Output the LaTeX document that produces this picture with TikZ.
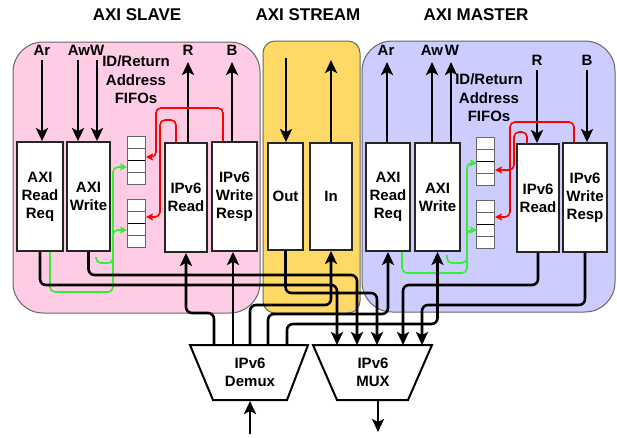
\documentclass[tikz,border=0pt]{standalone}
\usepackage{fontspec}
\setmainfont{Liberation Sans}
\usetikzlibrary{arrows.meta}
\definecolor{pinkbg}{HTML}{FFCCE6}
\definecolor{yellowbg}{HTML}{FFD966}
\definecolor{bluebg}{HTML}{CCCCFF}
\definecolor{panelborder}{HTML}{666666}
\definecolor{fifogray}{HTML}{666666}
\definecolor{redline}{HTML}{FF0000}
\definecolor{greenline}{HTML}{33EE33}
\begin{document}
\begin{tikzpicture}[x=1pt,y=-1pt,
  lbl/.style={font=\bfseries\fontsize{15}{18.5}\selectfont, align=center, inner sep=0},
  ttl/.style={font=\bfseries\fontsize{17}{20}\selectfont, inner sep=0},
  box/.style={draw=black!85, line width=1.8pt, fill=white, inner sep=0, align=center,
              font=\bfseries\fontsize{15}{18}\selectfont},
  panel/.style={draw=panelborder, line width=1pt},
  arr/.style={line width=2.6pt, -{Stealth[width=12pt,length=13pt,inset=3pt]}},
  wire/.style={arr, rounded corners=6pt},
  redarr/.style={draw=redline, line width=1.6pt, rounded corners=5pt, -{Stealth[width=7pt,length=7pt,inset=1.5pt]}},
  grnarr/.style={draw=greenline, line width=1.6pt, rounded corners=5pt, -{Stealth[width=7pt,length=7pt,inset=1.5pt]}},
  grnline/.style={draw=greenline, line width=1.6pt, rounded corners=5pt},
  fifo/.style={draw=fifogray, line width=1pt, fill=white, minimum width=18pt, minimum height=48pt, inner sep=0,
    path picture={
      \draw[fifogray, line width=1pt] ([yshift=12pt]path picture bounding box.south west) -- ([yshift=12pt]path picture bounding box.south east);
      \draw[black, line width=1pt] ([yshift=24pt]path picture bounding box.south west) -- ([yshift=24pt]path picture bounding box.south east);
      \draw[fifogray, line width=1pt] ([yshift=36pt]path picture bounding box.south west) -- ([yshift=36pt]path picture bounding box.south east);
    }},
  trap/.style={draw=black, line width=2pt, fill=white, line join=miter}
]
\useasboundingbox (0,0) rectangle (617,437);

% panels
\draw[panel, fill=pinkbg, rounded corners=30pt] (13,42) rectangle (260,313);
\draw[panel, fill=yellowbg, rounded corners=12pt] (263,41) rectangle (360,313);
\draw[panel, fill=bluebg, rounded corners=30pt] (362,41) rectangle (615,312);

% titles
\node[ttl] (tSlave) at (137,15) {AXI SLAVE};
\node[ttl] (tStream) at (308,15) {AXI STREAM};
\node[ttl] (tMaster) at (476,15) {AXI MASTER};

% boxes - slave
\node[box, minimum width=46pt, minimum height=109pt] (sRR) at (40,196.5) {AXI\\Read\\Req};
\node[box, minimum width=43pt, minimum height=109pt] (sW) at (88.5,196.5) {AXI\\Write};
\node[box, minimum width=42pt, minimum height=109pt] (sIR) at (186,197.5) {IPv6\\Read};
\node[box, minimum width=45pt, minimum height=109pt] (sWR) at (234.5,196.5) {IPv6\\Write\\Resp};
% stream
\node[box, minimum width=35pt, minimum height=107pt] (sOut) at (285.5,196.5) {Out};
\node[box, minimum width=42pt, minimum height=107pt] (sIn) at (331,196.5) {In};
% master
\node[box, minimum width=44pt, minimum height=108pt] (mRR) at (388,197) {AXI\\Read\\Req};
\node[box, minimum width=45pt, minimum height=108pt] (mW) at (437.5,197) {AXI\\Write};
\node[box, minimum width=42pt, minimum height=108pt] (mIR) at (538,198) {IPv6\\Read};
\node[box, minimum width=44pt, minimum height=109pt] (mWR) at (585,197.5) {IPv6\\Write\\Resp};

% FIFOs
\node[fifo] (sF1) at (136,160) {};
\node[fifo] (sF2) at (136,223) {};
\node[fifo] (mF1) at (485.5,161) {};
\node[fifo] (mF2) at (485.5,224) {};

\node[lbl] (sFifoTxt) at (136,80) {ID/Return\\Address\\FIFOs};
\node[lbl] (mFifoTxt) at (489,98) {ID/Return\\Address\\FIFOs};

% top labels
\node[lbl] (sArL) at (42,50) {Ar};
\node[lbl] (sAwWL) at (86,50) {AwW};
\node[lbl] (sRL) at (188,50) {R};
\node[lbl] (sBL) at (232,50) {B};
\node[lbl] (mArL) at (386,50) {Ar};
\node[lbl] (mAwL) at (432,50) {Aw};
\node[lbl] (mWL) at (452,50) {W};
\node[lbl] (mRL) at (537,60) {R};
\node[lbl] (mBL) at (587,60) {B};

% top arrow free ends
\coordinate (sArT) at (42,60);
\coordinate (sAwT) at (78,60);
\coordinate (sWT) at (97,60);
\coordinate (sRT) at (188,62);
\coordinate (sBT) at (232,62);
\coordinate (sOutT) at (286,58);
\coordinate (sInT) at (331,60);
\coordinate (mArT) at (387,62);
\coordinate (mAwT) at (432,62);
\coordinate (mWT) at (451,62);
\coordinate (mRT) at (537,70);
\coordinate (mBT) at (587,70);

\draw[arr] (sArT) -- (sArT |- sRR.north);
\draw[arr] (sAwT) -- (sAwT |- sW.north);
\draw[arr] (sWT) -- (sWT |- sW.north);
\draw[arr] (sRT |- sIR.north) -- (sRT);
\draw[arr] (sBT |- sWR.north) -- (sBT);
\draw[arr] (sOutT) -- (sOutT |- sOut.north);
\draw[arr] (sInT |- sIn.north) -- (sInT);
\draw[arr] (mArT |- mRR.north) -- (mArT);
\draw[arr] (mAwT |- mW.north) -- (mAwT);
\draw[arr] (mWT |- mW.north) -- (mWT);
\draw[arr] (mRT) -- (mRT |- mIR.north);
\draw[arr] (mBT) -- (mBT |- mWR.north);

% red connectors
\coordinate (sF1r) at (146,157);
\coordinate (sF2r) at (146,217);
\coordinate (mF1r) at (495,170);
\coordinate (mF2r) at (495,217);
\draw[redarr] ([xshift=-11.5pt]sWR.north) -- (223,108) -- (156,108) -- (156,157) -- (sF1r);
\draw[redarr] ([xshift=-10pt]sIR.north) -- (176,120) -- (160,120) -- (160,217) -- (sF2r);
\draw[redarr] ([xshift=-11pt]mWR.north) -- (574,122) -- (510,122) -- (510,217) -- (mF2r);
\draw[redarr] ([xshift=-11pt]mIR.north) -- (527,132) -- (514,132) -- (514,170) -- (mF1r);

% green connectors
\coordinate (sF1l) at (127,167);
\coordinate (sF2l) at (127,230);
\coordinate (mF1l) at (477,163);
\coordinate (mF2l) at (477,230);
\coordinate (sWg) at (96,257);
\coordinate (mWg) at (447,255);
\draw[grnarr] ([xshift=10pt]sRR.south) -- (50,292) -- (113,292) -- (113,167) -- (sF1l);
\draw[grnarr] (113,242) -- (113,230) -- (sF2l);
\draw[grnline] (sWg) -- (96,263) -- (113,263) -- (113,255);
\draw[grnarr] ([xshift=14pt]mRR.south) -- (402,273) -- (467,273) -- (467,163) -- (mF1l);
\draw[grnarr] (467,242) -- (467,230) -- (mF2l);
\draw[grnline] (mWg) -- (447,263) -- (467,263) -- (467,255);

% demux and mux
\draw[trap] (190,345) -- (308,345) -- (287,400) -- (213,400) -- cycle;
\draw[trap] (313,345) -- (432,345) -- (408,400) -- (337,400) -- cycle;
\node[lbl] (demux) at (250,372.5) {IPv6\\Demux};
\node[lbl] (mux) at (373,372.5) {IPv6\\MUX};

\coordinate (d1) at (214,345);
\coordinate (d2) at (233,345);
\coordinate (d3) at (250,345);
\coordinate (d4) at (268,345);
\coordinate (d5) at (287,345);
\coordinate (m1) at (337,345);
\coordinate (m2) at (357,345);
\coordinate (m3) at (377,345);
\coordinate (m4) at (403,345);
\coordinate (m5) at (422,345);
\coordinate (dIn) at (250,434);
\coordinate (dBot) at (250,401);
\coordinate (mBot) at (378,401);
\coordinate (mOut) at (378,432);

% demux outputs
\draw[wire] (d1) -- (214,313) -| (sIR.south);
\draw[arr] (d2) -- (d2 |- sWR.south);
\draw[wire] (d3) -- (250,305) -| (sIn.south);
\draw[wire] (d4) -- (268,314) -| (mRR.south);
\draw[wire] (d5) -- (287,324) -| (mW.south);

% mux inputs
\draw[wire] (sRR.south) |- (300,285) -| (m1);
\draw[wire] (sW.south) |- (300,275) -| (m2);
\draw[wire] (sOut.south) |- (330,293) -| (m3);
\draw[wire] (mIR.south) |- (450,285) -| (m4);
\draw[wire] (mWR.south) |- (450,305) -| (m5);

\draw[arr] (dIn) -- (dBot);
\draw[arr] (mBot) -- (mOut);
\end{tikzpicture}
\end{document}
